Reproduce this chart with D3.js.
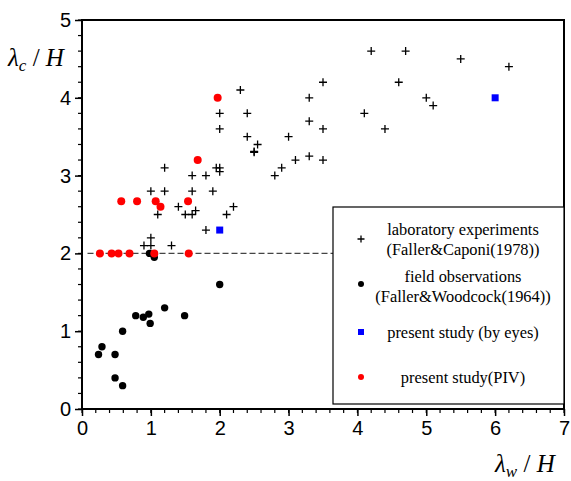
<!DOCTYPE html>
<html><head><meta charset="utf-8">
<script src="https://cdn.jsdelivr.net/npm/d3@7"></script>
<style>body{margin:0;background:#fff}svg{display:block}</style>
</head><body>
<script>
// Laboratory experiments (Faller & Caponi 1978) [x, y]
const labX = [4.2,3.5,2.3,3.3,2.0,2.4,4.1,3.3,2.0,3.5,4.4,2.4,3.0,2.55,2.5,2.5,3.3,3.1,3.5,2.9,2.8,1.95,2.0,2.0,1.6,1.8,1.6,1.9,
  4.7,5.5,6.2,4.6,5.0,5.1,1.2,1.0,1.2,1.4,2.2,1.1,1.5,1.6,1.65,2.1,1.8,1.0,0.9,1.0,1.3];
const labY = [4.6,4.2,4.1,4.0,3.8,3.8,3.8,3.7,3.6,3.6,3.6,3.5,3.5,3.4,3.3,3.31,3.25,3.2,3.2,3.1,3.0,3.1,3.1,3.05,3.0,3.0,2.8,2.8,
  4.6,4.5,4.4,4.2,4.0,3.9,3.1,2.8,2.8,2.6,2.6,2.5,2.5,2.5,2.55,2.5,2.3,2.2,2.1,2.1,2.1];
// Field observations (Faller & Woodcock 1964)
const fieldX = [0.98,1.05,2.0,1.2,0.78,0.89,0.97,0.99,1.49,0.59,0.29,0.24,0.48,0.48,0.59];
const fieldY = [2.0,1.95,1.6,1.3,1.2,1.18,1.22,1.1,1.2,1.0,0.8,0.7,0.7,0.4,0.3];
// Present study (by eyes)
const eyesX = [2.0,6.0];
const eyesY = [2.3,4.0];
// Present study (PIV)
const pivX = [1.97,1.68,0.57,0.8,1.07,1.14,1.54,0.26,0.43,0.53,0.69,1.05,1.55];
const pivY = [4.0,3.2,2.67,2.67,2.67,2.6,2.67,2.0,2.0,2.0,2.0,2.0,2.0];
const xTicks = [0,1,2,3,4,5,6,7];
const yTicks = [0,1,2,3,4,5];
const legendLabels = [
  ["laboratory experiments","(Faller&Caponi(1978))"],
  ["field observations","(Faller&Woodcock(1964))"],
  ["present study (by eyes)"],
  ["present study(PIV)"]
];

const W = 571, H = 481;
const svg = d3.select("body").append("svg").attr("width", W).attr("height", H);
const x = d3.scaleLinear().domain([0,7]).range([82,564]);
const y = d3.scaleLinear().domain([0,5]).range([409,20]);

// minor ticks
const xMinor = d3.range(0,7.001,0.2);
const yMinor = d3.range(0,5.001,0.2);
svg.append("g").selectAll("line").data(xMinor).join("line")
  .attr("x1", d=>x(d)).attr("x2", d=>x(d)).attr("y1", y(0)).attr("y2", y(0)+4)
  .attr("stroke","#000").attr("stroke-width",1.2);
svg.append("g").selectAll("line").data(yMinor).join("line")
  .attr("y1", d=>y(d)).attr("y2", d=>y(d)).attr("x1", x(0)).attr("x2", x(0)-4)
  .attr("stroke","#000").attr("stroke-width",1.2);

const xAxis = svg.append("g").attr("transform",`translate(0,${y(0)})`)
  .call(d3.axisBottom(x).tickValues(xTicks).tickFormat(d3.format("d")).tickSize(7).tickPadding(5));
const yAxis = svg.append("g").attr("transform",`translate(${x(0)},0)`)
  .call(d3.axisLeft(y).tickValues(yTicks).tickFormat(d3.format("d")).tickSize(7).tickPadding(4));
[xAxis,yAxis].forEach(g=>{
  g.select(".domain").remove();
  g.selectAll(".tick line").attr("stroke","#000").attr("stroke-width",1.5);
  g.selectAll("text").attr("font-family","'Liberation Sans', Arial, sans-serif").attr("font-size",20).attr("fill","#000");
});

// frame
svg.append("rect").attr("x",x(0)).attr("y",y(5)).attr("width",x(7)-x(0)).attr("height",y(0)-y(5))
  .attr("fill","none").attr("stroke","#000").attr("stroke-width",2);

// dashed line at 2
svg.append("line").attr("x1",x(0.08)).attr("x2",x(7)).attr("y1",y(2)).attr("y2",y(2))
  .attr("stroke","#444").attr("stroke-width",1.2).attr("stroke-dasharray","6,3");

const plus = (g, cx, cy, s) => g.append("path")
  .attr("d", `M${cx-s},${cy}H${cx+s}M${cx},${cy-s}V${cy+s}`)
  .attr("stroke","#000").attr("stroke-width",1.3).attr("fill","none");

const labG = svg.append("g");
labX.forEach((d,i)=>plus(labG, x(d), y(labY[i]), 4));

svg.append("g").selectAll("circle").data(fieldX).join("circle")
  .attr("cx", d=>x(d)).attr("cy",(d,i)=>y(fieldY[i])).attr("r",3.7).attr("fill","#000");
svg.append("g").selectAll("rect").data(eyesX).join("rect")
  .attr("x", d=>x(d)-3.5).attr("y",(d,i)=>y(eyesY[i])-3.5).attr("width",7).attr("height",7).attr("fill","#0000ff");
svg.append("g").selectAll("circle").data(pivX).join("circle")
  .attr("cx", d=>x(d)).attr("cy",(d,i)=>y(pivY[i])).attr("r",4).attr("fill","#ff0000");

// legend
const lg = svg.append("g");
lg.append("rect").attr("x",333).attr("y",207).attr("width",x(7)-333).attr("height",197)
  .attr("fill","#fff").attr("stroke","#000").attr("stroke-width",1.2);
const symY = [239,284,332,377];
const textY = [[235,255],[282,302],[338],[383]];
plus(lg, 361, symY[0], 3.5);
lg.append("circle").attr("cx",361).attr("cy",symY[1]).attr("r",3).attr("fill","#000");
lg.append("rect").attr("x",358).attr("y",symY[2]-3).attr("width",6).attr("height",6).attr("fill","#0000ff");
lg.append("circle").attr("cx",361).attr("cy",symY[3]).attr("r",3).attr("fill","#ff0000");
legendLabels.forEach((lines,i)=>{
  lines.forEach((t,j)=>{
    lg.append("text").attr("x",463).attr("y",textY[i][j]).attr("text-anchor","middle")
      .attr("font-family","'Liberation Serif','Times New Roman',serif").attr("font-size",16.4).attr("fill","#000").text(t);
  });
});

// axis titles
const serif = "'Liberation Serif','Times New Roman',serif";
const yt = svg.append("text").attr("x",8).attr("y",66).attr("font-family",serif).attr("font-size",25).attr("font-style","italic").attr("fill","#000");
yt.append("tspan").text("λ");
yt.append("tspan").attr("font-size",17).attr("dy",5).text("c");
yt.append("tspan").attr("dy",-5).attr("font-style","normal").text(" / ");
yt.append("tspan").text("H");
const xt = svg.append("text").attr("x",495).attr("y",472).attr("font-family",serif).attr("font-size",25).attr("font-style","italic").attr("fill","#000");
xt.append("tspan").text("λ");
xt.append("tspan").attr("font-size",17).attr("dy",5).text("w");
xt.append("tspan").attr("dy",-5).attr("font-style","normal").text(" / ");
xt.append("tspan").text("H");
</script>
</body></html>
